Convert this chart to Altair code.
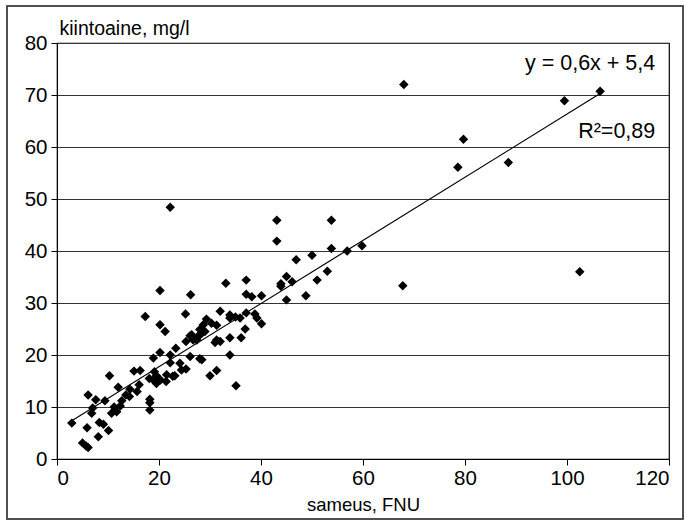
import altair as alt
import pandas as pd

# turbidity (sameus, FNU)
sameus = [
    68, 106.5, 99.5, 79.7, 78.6, 88.5, 102.5, 67.8,
    22.2, 43.1, 53.8, 43.1, 53.8, 56.9, 59.8, 50.0, 46.9, 53.0, 51.0, 48.8,
    45.0, 46.1, 43.9, 43.9, 45.0, 37.1, 33.1, 20.2, 26.2, 37.1, 38.2, 40.1,
    25.2, 32.0, 33.9, 33.9, 35.0, 37.1, 38.8, 39.2, 40.1, 36.9, 36.1, 33.9,
    20.2, 21.2, 29.3, 30.3, 28.7, 31.3, 28.0, 29.0, 28.0, 26.4, 27.4, 25.3,
    31.3, 31.0, 32.0, 23.3, 20.2, 22.2, 33.9, 26.1, 28.0, 18.9,
    17.3, 26.1, 27.7, 26.7, 28.4, 24.1, 25.3, 28.4, 30.0, 31.3, 23.1, 21.4,
    19.5, 18.9, 19.5, 20.3, 19.1, 16.3, 15.1, 16.1, 15.7, 14.3, 14.2, 13.5,
    12.0, 10.3, 12.7, 12.4, 11.2, 10.7, 11.7, 18.2, 18.2, 18.2, 9.4, 6.1,
    7.6, 7.0, 6.8, 2.9, 8.3, 9.1, 10.1, 5.9, 8.1, 5.0, 5.7, 6.1,
    35.1, 35.9, 18.1, 21.5, 22.7, 22.2, 24.4,
]
# suspended solids (kiintoaine, mg/l)
kiintoaine = [
    72.0, 70.7, 68.9, 61.5, 56.1, 57.0, 36.0, 33.3,
    48.4, 45.9, 45.9, 41.9, 40.5, 40.0, 41.0, 39.2, 38.3, 36.1, 34.4, 31.4,
    35.1, 34.1, 33.7, 33.2, 30.6, 34.4, 33.8, 32.4, 31.6, 31.7, 31.2, 31.4,
    27.9, 28.4, 27.7, 27.1, 27.3, 28.1, 27.9, 27.1, 26.0, 25.0, 23.3, 23.3,
    25.8, 24.5, 26.9, 26.1, 25.8, 25.7, 24.9, 24.5, 23.9, 23.9, 22.9, 22.6,
    22.9, 22.4, 22.6, 21.3, 20.5, 20.0, 20.0, 19.7, 19.3, 19.4,
    27.4, 23.7, 23.6, 22.9, 24.2, 18.4, 17.3, 19.1, 16.0, 17.0, 16.0, 14.9,
    16.0, 15.2, 14.5, 15.2, 16.8, 17.0, 16.9, 14.3, 13.0, 13.4, 12.0, 12.3,
    13.8, 16.0, 11.2, 10.2, 10.0, 8.8, 9.1, 11.5, 10.8, 9.4, 11.2, 12.3,
    11.4, 9.8, 8.8, 6.9, 7.0, 6.7, 5.5, 6.0, 4.3, 3.1, 2.5, 2.2,
    14.1, 27.1, 15.5, 16.2, 15.9, 18.5, 17.1,
]

x_ticks = [0, 20, 40, 60, 80, 100, 120]
y_ticks = [0, 10, 20, 30, 40, 50, 60, 70, 80]
ann_text = ["y = 0,6x + 5,4", "R²=0,89"]
ann_x = [117.3, 117.3]
ann_y = [74.8, 61.8]

FONT = "Liberation Sans, Arial, Helvetica, sans-serif"

df = pd.DataFrame({"sameus": sameus, "kiintoaine": kiintoaine})
ann = pd.DataFrame({"t": ann_text, "x": ann_x, "y": ann_y})

xs = alt.Scale(domain=[0, 120], nice=False)
ys = alt.Scale(domain=[0, 80], nice=False)

points = alt.Chart(df).mark_point(
    shape="diamond", filled=True, color="black", size=90, opacity=1
).encode(
    x=alt.X("sameus:Q", scale=xs, axis=alt.Axis(
        values=x_ticks, grid=False, title="sameus, FNU", titleFontSize=18.5,
        titleFontWeight="normal", titleFont=FONT, titleColor="black",
        labelFont=FONT, labelFontSize=20.5, labelColor="black", labelPadding=3,
        tickSize=6, tickColor="black", domainColor="black", titlePadding=7,
    )),
    y=alt.Y("kiintoaine:Q", scale=ys, axis=alt.Axis(
        values=y_ticks, grid=True, gridColor="#333333", gridWidth=1.2,
        title="kiintoaine, mg/l", titleAngle=0, titleAlign="left",
        titleBaseline="alphabetic", titleX=2, titleY=-9, titleFontSize=19.5,
        titleFontWeight="normal", titleFont=FONT, titleColor="black",
        labelFont=FONT, labelFontSize=20.5, labelColor="black", labelPadding=4,
        tickSize=6, tickColor="black", domainColor="black",
    )),
)

trend = alt.Chart(df).transform_regression(
    "sameus", "kiintoaine", method="linear"
).mark_line(color="black", strokeWidth=1.2).encode(
    x=alt.X("sameus:Q", scale=xs), y=alt.Y("kiintoaine:Q", scale=ys)
)

labels = alt.Chart(ann).mark_text(
    align="right", baseline="alphabetic", fontSize=21.5, font=FONT, color="black"
).encode(x=alt.X("x:Q", scale=xs), y=alt.Y("y:Q", scale=ys), text="t:N")

frame = alt.Chart(ann).mark_rect(
    fill=None, stroke="#444444", strokeWidth=1.5
).encode(
    x=alt.value(-50), x2=alt.value(626), y=alt.value(-37), y2=alt.value(476)
)

chart = alt.layer(frame, trend, points, labels).properties(
    width=612, height=416,
    padding={"left": 57, "top": 43, "right": 17, "bottom": 65},
    autosize=alt.AutoSizeParams(type="none"),
    background="white",
).configure_view(stroke="black", strokeWidth=1.2)

chart.save("out.html", embed_options={"renderer": "svg", "actions": False})
